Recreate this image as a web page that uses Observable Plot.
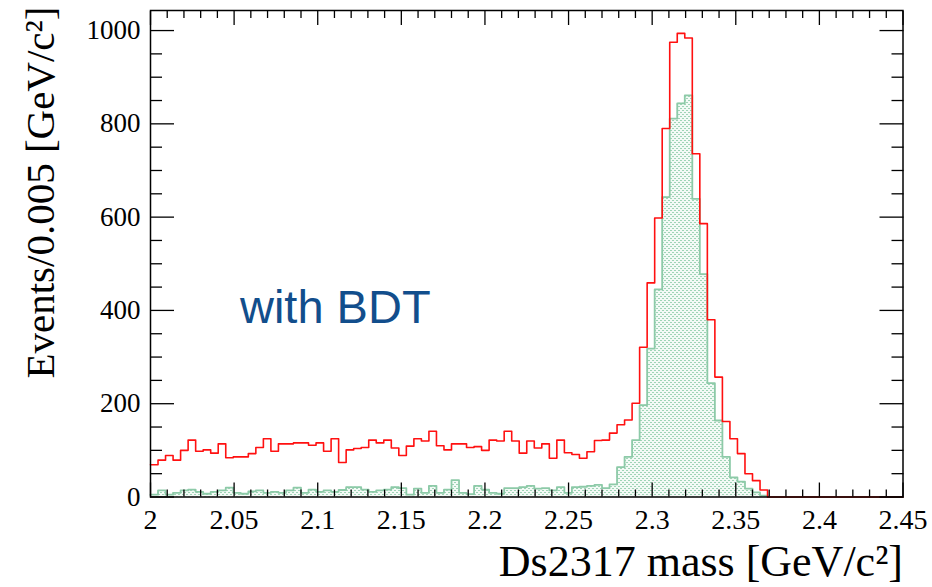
<!DOCTYPE html>
<html>
<head>
<meta charset="utf-8">
<script src="https://cdn.jsdelivr.net/npm/d3@7"></script>
<script src="https://cdn.jsdelivr.net/npm/@observablehq/plot@0.6"></script>
<style>
  html, body { margin: 0; padding: 0; background: #ffffff; }
</style>
</head>
<body>
<div id="chart"></div>
<script>
// ---- data ----
const xMin = 2.0;
const xMax = 2.45;
const binCount = 100;

// red histogram (before BDT), 100 bins from 2.0 to 2.45
const allEvents = [
  69, 79, 89, 79, 100, 122, 98, 101, 94, 114,
  84, 86, 86, 93, 106, 125, 98, 114, 114, 116,
  116, 111, 116, 98, 125, 74, 101, 104, 106, 122,
  116, 122, 105, 89, 109, 125, 120, 141, 110, 101,
  114, 114, 106, 108, 100, 122, 120, 141, 120, 94,
  120, 105, 114, 83, 122, 95, 91, 83, 97, 121,
  122, 137, 155, 165, 201, 321, 459, 598, 790, 975,
  994, 984, 736, 586, 380, 257, 162, 125, 93, 50,
  35, 15, 0, 0, 0, 0, 0, 0, 0, 0,
  0, 0, 0, 0, 0, 0, 0, 0, 0, 0
];

// green dotted histogram (with BDT)
const bdtEvents = [
  5, 14, 5, 9, 14, 16, 11, 7, 11, 14,
  20, 9, 7, 12, 14, 9, 11, 9, 14, 20,
  9, 16, 11, 14, 11, 15, 21, 21, 16, 11,
  14, 16, 21, 19, 5, 18, 9, 24, 9, 16,
  36, 9, 6, 24, 16, 9, 7, 19, 19, 21,
  24, 18, 19, 14, 21, 9, 21, 22, 24, 26,
  19, 27, 64, 86, 122, 197, 318, 445, 643, 811,
  844, 861, 639, 478, 244, 164, 86, 42, 33, 18,
  10, 3, 0, 0, 0, 0, 0, 0, 0, 0,
  0, 0, 0, 0, 0, 0, 0, 0, 0, 0
];

const xTicks = [2, 2.05, 2.1, 2.15, 2.2, 2.25, 2.3, 2.35, 2.4, 2.45];
const xTickLabels = ["2", "2.05", "2.1", "2.15", "2.2", "2.25", "2.3", "2.35", "2.4", "2.45"];
const yTicks = [0, 200, 400, 600, 800, 1000];
const yTickLabels = ["0", "200", "400", "600", "800", "1000"];
const xTitle = "Ds2317 mass [GeV/c²]";
const yTitle = "Events/0.005 [GeV/c²]";
const annotation = "with BDT";

// ---- derived tables ----
const binWidth = (xMax - xMin) / binCount;
const xMinorTicks = d3.range(0, 46).map(i => +(xMin + i * 0.01).toFixed(3)).filter(v => !xTicks.some(t => Math.abs(t - v) < 1e-9));
const yMinorTicks = d3.range(0, 21).map(i => i * 50).filter(v => !yTicks.includes(v));

const steps = allEvents.map((v, i) => ({x: xMin + i * binWidth, all: v, bdt: bdtEvents[i]}));
steps.push({x: xMax, all: allEvents[binCount - 1], bdt: bdtEvents[binCount - 1]});

const serif = "'Liberation Serif', 'DejaVu Serif', serif";

const svg = Plot.plot({
  width: 932,
  height: 587,
  marginLeft: 150,
  marginRight: 29.5,
  marginTop: 10,
  marginBottom: 90.5,
  style: {background: "#ffffff", color: "#000000", fontFamily: serif, fontSize: "27px", overflow: "visible"},
  x: {domain: [xMin, xMax]},
  y: {domain: [0, 1043]},
  marks: [
    Plot.areaY(steps, {x: "x", y: "bdt", curve: "step-after", fill: "url(#bdtdots)"}),
    Plot.line(steps, {x: "x", y: "bdt", curve: "step-after", stroke: "#8dcaa8", strokeWidth: 1.8}),
    Plot.line(steps, {x: "x", y: "all", curve: "step-after", stroke: "#ff1010", strokeWidth: 1.6}),
    Plot.frame({stroke: "#000000", strokeWidth: 1.5}),
    // inward ticks, ROOT style, on all four sides
    Plot.axisX(xTicks, {anchor: "bottom", tickSize: -14, fill: "none", label: null, strokeWidth: 1.3}),
    Plot.axisX(xMinorTicks, {anchor: "bottom", tickSize: -7, fill: "none", label: null, strokeWidth: 1.3}),
    Plot.axisX(xTicks, {anchor: "top", tickSize: -14, fill: "none", label: null, strokeWidth: 1.3}),
    Plot.axisX(xMinorTicks, {anchor: "top", tickSize: -7, fill: "none", label: null, strokeWidth: 1.3}),
    Plot.axisY(yTicks, {anchor: "left", tickSize: -24, fill: "none", label: null, strokeWidth: 1.3}),
    Plot.axisY(yMinorTicks, {anchor: "left", tickSize: -12, fill: "none", label: null, strokeWidth: 1.3}),
    Plot.axisY(yTicks, {anchor: "right", tickSize: -24, fill: "none", label: null, strokeWidth: 1.3}),
    Plot.axisY(yMinorTicks, {anchor: "right", tickSize: -12, fill: "none", label: null, strokeWidth: 1.3}),
    // tick labels
    Plot.axisX(xTicks, {anchor: "bottom", tickSize: 0, tickPadding: 12, label: null, fontSize: 28,
      tickFormat: d => xTickLabels[xTicks.indexOf(d)]}),
    Plot.axisY(yTicks, {anchor: "left", tickSize: 0, tickPadding: 10, label: null, fontSize: 27,
      tickFormat: d => yTickLabels[yTicks.indexOf(d)]}),
    // axis titles
    Plot.text([xTitle], {text: d => d, frameAnchor: "bottom-right", textAnchor: "end", lineAnchor: "bottom",
      dy: 79, fontSize: 44, fontFamily: serif, fill: "#000000"}),
    Plot.text([yTitle], {text: d => d, frameAnchor: "top-left", rotate: -90, textAnchor: "end", lineAnchor: "bottom",
      dx: -97, dy: -4, fontSize: 41, fontFamily: serif, fill: "#000000"}),
    // annotation
    Plot.text([annotation], {text: d => d, x: 2.0535, y: 372, textAnchor: "start", lineAnchor: "bottom",
      fontSize: 47, fontFamily: "'Liberation Sans', Arial, sans-serif", fill: "#124e8c"})
  ]
});

// dotted fill pattern used by the BDT histogram
const defs = d3.select(svg).insert("defs", ":first-child");
const pat = defs.append("pattern").attr("id", "bdtdots").attr("patternUnits", "userSpaceOnUse")
  .attr("width", 4).attr("height", 4);
pat.append("rect").attr("width", 4).attr("height", 4).attr("fill", "#f3faf6");
pat.append("rect").attr("x", 0).attr("y", 0).attr("width", 2).attr("height", 1).attr("fill", "#9fd4b6");
pat.append("rect").attr("x", 2).attr("y", 2).attr("width", 2).attr("height", 1).attr("fill", "#9fd4b6");

document.getElementById("chart").appendChild(svg);
</script>
</body>
</html>
